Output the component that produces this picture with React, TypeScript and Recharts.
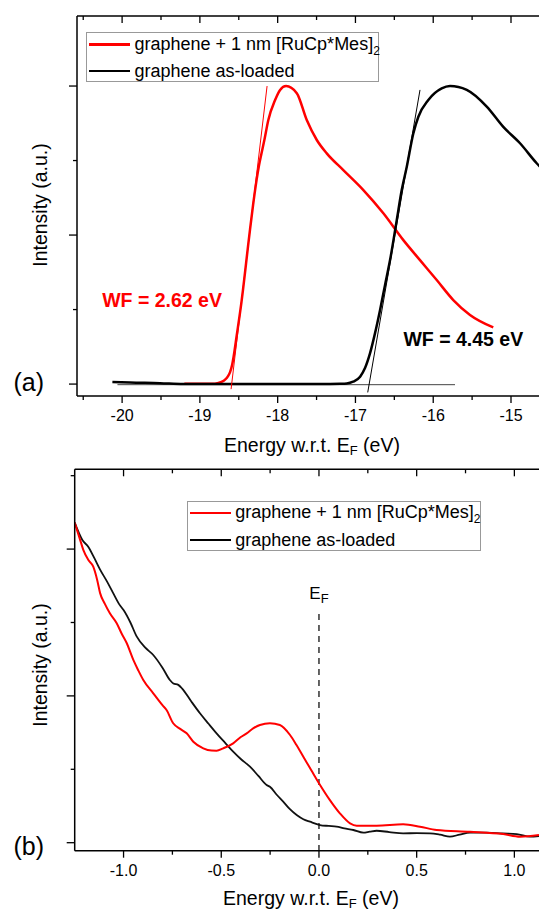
import {Line, LineChart, ReferenceDot, XAxis, YAxis} from 'recharts';

const FONT = "'Liberation Sans', Arial, Helvetica, sans-serif";
const RED = '#ff0000';

// (a) secondary electron cut-off
const cutRedE = [-19.2, -19.0, -18.843, -18.762, -18.715, -18.676, -18.638, -18.612, -18.586, -18.567, -18.526, -18.465, -18.364, -18.316, -18.271, -18.239, -18.213, -18.171, -18.12, -18.033, -17.969, -17.892, -17.754, -17.626, -17.497, -17.369, -17.156, -16.898, -16.641, -16.384, -16.17, -15.955, -15.742, -15.527, -15.228];
const cutRedI = [0.001, 0.001, 0.001, 0.004, 0.008, 0.015, 0.027, 0.04, 0.064, 0.091, 0.164, 0.276, 0.5, 0.601, 0.685, 0.735, 0.768, 0.819, 0.886, 0.953, 0.987, 1.0, 0.976, 0.886, 0.819, 0.774, 0.718, 0.651, 0.573, 0.483, 0.416, 0.349, 0.282, 0.232, 0.19];
const cutBlackE = [-20.125, -19.897, -19.512, -19.216, -18.355, -17.455, -17.198, -17.112, -17.03, -16.94, -16.877, -16.812, -16.748, -16.684, -16.62, -16.555, -16.469, -16.405, -16.34, -16.256, -16.191, -16.063, -15.891, -15.784, -15.569, -15.312, -15.099, -14.884, -14.67, -14.56];
const cutBlackI = [0.007, 0.005, 0.003, 0.0, 0.0, 0.0, 0.001, 0.002, 0.008, 0.025, 0.054, 0.104, 0.171, 0.248, 0.332, 0.416, 0.55, 0.651, 0.729, 0.841, 0.897, 0.953, 0.992, 1.0, 0.987, 0.931, 0.863, 0.808, 0.741, 0.711];
const tanRedE = [-18.599, -18.136];
const tanRedI = [-0.017, 1.0];
const tanBlackE = [-16.842, -16.17];
const tanBlackI = [-0.028, 0.987];
const baseE = [-20.06, -15.72];
const baseI = [-0.002, -0.002];

// (b) valence region near E_F
const vbRedE = [-1.25, -1.225, -1.206, -1.18, -1.155, -1.135, -1.12, -1.095, -1.07, -1.035, -1.01, -0.984, -0.95, -0.925, -0.899, -0.848, -0.8, -0.78, -0.746, -0.71, -0.677, -0.643, -0.592, -0.55, -0.524, -0.49, -0.439, -0.4, -0.37, -0.335, -0.302, -0.251, -0.2, -0.148, -0.115, -0.08, -0.04, 0.0, 0.056, 0.107, 0.159, 0.193, 0.295, 0.431, 0.517, 0.602, 0.773, 0.943, 1.029, 1.126];
const vbRedI = [4.36, 4.15, 3.99, 3.85, 3.76, 3.58, 3.4, 3.25, 3.125, 2.99, 2.85, 2.72, 2.49, 2.35, 2.217, 2.035, 1.87, 1.808, 1.627, 1.55, 1.49, 1.376, 1.286, 1.255, 1.253, 1.286, 1.354, 1.44, 1.49, 1.56, 1.604, 1.627, 1.604, 1.467, 1.33, 1.17, 0.99, 0.81, 0.58, 0.4, 0.264, 0.232, 0.232, 0.25, 0.218, 0.173, 0.15, 0.118, 0.082, 0.105];
const vbBlackE = [-1.25, -1.21, -1.18, -1.15, -1.12, -1.085, -1.053, -1.02, -1.0, -0.965, -0.933, -0.89, -0.848, -0.8, -0.763, -0.745, -0.72, -0.7, -0.655, -0.609, -0.565, -0.524, -0.48, -0.439, -0.4, -0.353, -0.31, -0.268, -0.251, -0.215, -0.183, -0.15, -0.114, -0.08, -0.046, 0.005, 0.05, 0.09, 0.13, 0.176, 0.227, 0.26, 0.295, 0.36, 0.431, 0.5, 0.568, 0.62, 0.67, 0.72, 0.773, 0.858, 0.94, 1.012, 1.08, 1.126];
const vbBlackI = [4.36, 4.12, 4.03, 3.88, 3.72, 3.56, 3.4, 3.24, 3.17, 3.0, 2.81, 2.66, 2.557, 2.38, 2.217, 2.17, 2.15, 2.1, 1.93, 1.763, 1.62, 1.49, 1.36, 1.24, 1.14, 1.035, 0.91, 0.786, 0.763, 0.65, 0.559, 0.46, 0.377, 0.32, 0.286, 0.241, 0.228, 0.218, 0.195, 0.173, 0.136, 0.15, 0.163, 0.145, 0.128, 0.13, 0.128, 0.11, 0.082, 0.11, 0.136, 0.136, 0.125, 0.118, 0.082, 0.09];
const efLineE = [0, 0];
const efLineI = [3.116, -0.3];

const ticksA = [-20.5, -20, -19.5, -19, -18.5, -18, -17.5, -17, -16.5, -16, -15.5, -15];
const yTicksA = [0, 0.25, 0.5, 0.75, 1];
const ticksB = [-1, -0.75, -0.5, -0.25, 0, 0.25, 0.5, 0.75, 1];
const yTicksB = [0, 1, 2, 3, 4, 5];

const LEGEND_RED = 'graphene + 1 nm [RuCp*Mes]';
const LEGEND_BLACK = 'graphene as-loaded';

const pts = (xs: number[], ys: number[]) => xs.map((x, i) => ({x, y: ys[i]}));

function xTick(isMajor: (v: number) => boolean, fmt: ((v: number) => string) | null) {
    return (p: any) => {
        const major = isMajor(p.payload.value);
        return (
            <g>
                <line x1={p.x} x2={p.x} y1={p.y} y2={p.y + (major ? 7 : 4)} stroke="#000" strokeWidth={1.3}/>
                {fmt && major && (
                    <text x={p.x} y={p.y + 25} textAnchor="middle" fontSize={16} fontFamily={FONT} fill="#000">
                        {fmt(p.payload.value)}
                    </text>
                )}
            </g>
        );
    };
}

function yTick(isMajor: (v: number) => boolean) {
    return (p: any) => {
        const major = isMajor(p.payload.value);
        return <line x1={p.x - (major ? 8 : 4)} x2={p.x} y1={p.y} y2={p.y} stroke="#000" strokeWidth={1.3}/>;
    };
}

function EfLabel(props: any) {
    const vb = props.viewBox;
    if (!vb) return null;
    return (
        <text x={vb.x + (vb.width || 0) / 2} y={vb.y - 15} textAnchor="middle" fontSize={17} fontFamily={FONT} fill="#000">
            E<tspan dy={4} fontSize={13}>F</tspan>
        </text>
    );
}

function LegendBox({left, top, width, lw}: {left: number; top: number; width: number; lw: number}) {
    const row = (color: string, y: number, label: React.ReactNode) => (
        <div style={{position: 'absolute', left: 2, top: y - 11, height: 22, display: 'flex', alignItems: 'center', whiteSpace: 'nowrap'}}>
            <div style={{width: 41, height: lw, background: color}}/>
            <span style={{marginLeft: 4.5, fontSize: 18, lineHeight: '22px'}}>{label}</span>
        </div>
    );
    return (
        <div style={{position: 'absolute', left, top, width, height: 50, border: '1px solid #999', background: '#fff', boxSizing: 'border-box', fontFamily: FONT, color: '#000'}}>
            {row(RED, 11.5, <>{LEGEND_RED}<span style={{fontSize: 12, position: 'relative', top: 5}}>2</span></>)}
            {row('#000', 38, LEGEND_BLACK)}
        </div>
    );
}

const axisLine = {stroke: '#000', strokeWidth: 1.5};

export default function App() {
    const intA = (v: number) => Number.isInteger(v);
    const halfB = (v: number) => Math.abs(v * 2 - Math.round(v * 2)) < 1e-9;
    return (
        <div style={{position: 'absolute', left: 0, top: 0, width: 539, height: 910, background: '#fff', overflow: 'hidden'}}>
            <div style={{position: 'absolute', left: 0, top: 0}}>
                <LineChart width={539} height={460} margin={{top: 15, right: 0, bottom: 63, left: 76}}>
                    <XAxis dataKey="x" type="number" domain={[-20.58, -14.64]} allowDataOverflow ticks={ticksA} interval={0}
                           height={1} tickSize={0} tickMargin={0} axisLine={axisLine} tickLine={false}
                           tick={xTick(intA, (v) => String(v))}/>
                    <XAxis xAxisId="t" orientation="top" dataKey="x" type="number" domain={[-20.58, -14.64]} allowDataOverflow
                           ticks={ticksA} interval={0} height={1} tickSize={0} tickMargin={0} axisLine={axisLine} tickLine={false}
                           tick={xTick(intA, null)}/>
                    <YAxis type="number" domain={[-0.04, 1.235]} allowDataOverflow ticks={yTicksA} interval={0} width={1}
                           tickSize={0} tickMargin={0} axisLine={axisLine} tickLine={false}
                           tick={yTick((v) => Math.abs(v * 2 - Math.round(v * 2)) < 1e-9)}/>
                    <Line data={pts(baseE, baseI)} dataKey="y" type="linear" stroke="#444" strokeWidth={1} dot={false} isAnimationActive={false}/>
                    <Line data={pts(cutRedE, cutRedI)} dataKey="y" type="monotone" stroke={RED} strokeWidth={2.5} dot={false} isAnimationActive={false}/>
                    <Line data={pts(cutBlackE, cutBlackI)} dataKey="y" type="monotone" stroke="#000" strokeWidth={2.5} dot={false} isAnimationActive={false}/>
                    <Line data={pts(tanRedE, tanRedI)} dataKey="y" type="linear" stroke={RED} strokeWidth={1} dot={false} isAnimationActive={false}/>
                    <Line data={pts(tanBlackE, tanBlackI)} dataKey="y" type="linear" stroke="#000" strokeWidth={1} dot={false} isAnimationActive={false}/>
                    <ReferenceDot x={-19.486} y={0.281} r={0} fill="none" stroke="none"
                                  label={{value: 'WF = 2.62 eV', position: 'center', fill: RED, fontSize: 19.5, fontWeight: 'bold', fontFamily: FONT}}/>
                    <ReferenceDot x={-15.613} y={0.152} r={0} fill="none" stroke="none"
                                  label={{value: 'WF = 4.45 eV', position: 'center', fill: '#000', fontSize: 19.5, fontWeight: 'bold', fontFamily: FONT}}/>
                </LineChart>
            </div>
            <div style={{position: 'absolute', left: 0, top: 460}}>
                <LineChart width={539} height={450} margin={{top: 8.3, right: 0, bottom: 58.3, left: 73.7}}>
                    <XAxis dataKey="x" type="number" domain={[-1.25, 1.126]} allowDataOverflow ticks={ticksB} interval={0}
                           height={1} tickSize={0} tickMargin={0} axisLine={axisLine} tickLine={false}
                           tick={xTick(halfB, (v) => v.toFixed(1))}/>
                    <XAxis xAxisId="t" orientation="top" dataKey="x" type="number" domain={[-1.25, 1.126]} allowDataOverflow
                           ticks={ticksB} interval={0} height={1} tickSize={0} tickMargin={0} axisLine={axisLine} tickLine={false}
                           tick={xTick(halfB, null)}/>
                    <YAxis type="number" domain={[-0.109, 5.087]} allowDataOverflow ticks={yTicksB} interval={0} width={1}
                           tickSize={0} tickMargin={0} axisLine={axisLine} tickLine={false}
                           tick={yTick((v) => v % 2 === 0)}/>
                    <Line data={pts(efLineE, efLineI)} dataKey="y" type="linear" stroke="#222" strokeWidth={1.4} strokeDasharray="6 5" dot={false} isAnimationActive={false}/>
                    <Line data={pts(vbBlackE, vbBlackI)} dataKey="y" type="monotone" stroke="#111" strokeWidth={1.8} dot={false} isAnimationActive={false}/>
                    <Line data={pts(vbRedE, vbRedI)} dataKey="y" type="monotone" stroke={RED} strokeWidth={2} dot={false} isAnimationActive={false}/>
                    <ReferenceDot x={0} y={3.116} r={0} fill="none" stroke="none" label={<EfLabel/>}/>
                </LineChart>
            </div>
            <LegendBox left={86} top={32} width={293} lw={2.5}/>
            <LegendBox left={186.7} top={500.7} width={294} lw={2}/>
            <svg width={539} height={910} style={{position: 'absolute', left: 0, top: 0, pointerEvents: 'none'}}
                 fontFamily={FONT} fill="#000">
                <text transform="rotate(-90 47 205)" x={47} y={205} textAnchor="middle" fontSize={19.5}>Intensity (a.u.)</text>
                <text transform="rotate(-90 47 665)" x={47} y={665} textAnchor="middle" fontSize={19.5}>Intensity (a.u.)</text>
                <text x={312} y={451.5} textAnchor="middle" fontSize={19.5}>
                    Energy w.r.t. E<tspan dy={3.5} fontSize={13}>F</tspan><tspan dy={-3.5}> (eV)</tspan>
                </text>
                <text x={311} y={904.5} textAnchor="middle" fontSize={19.5}>
                    Energy w.r.t. E<tspan dy={3.5} fontSize={13}>F</tspan><tspan dy={-3.5}> (eV)</tspan>
                </text>
                <text x={13.5} y={391.4} fontSize={25}>(a)</text>
                <text x={13.5} y={854.7} fontSize={25}>(b)</text>
            </svg>
        </div>
    );
}
